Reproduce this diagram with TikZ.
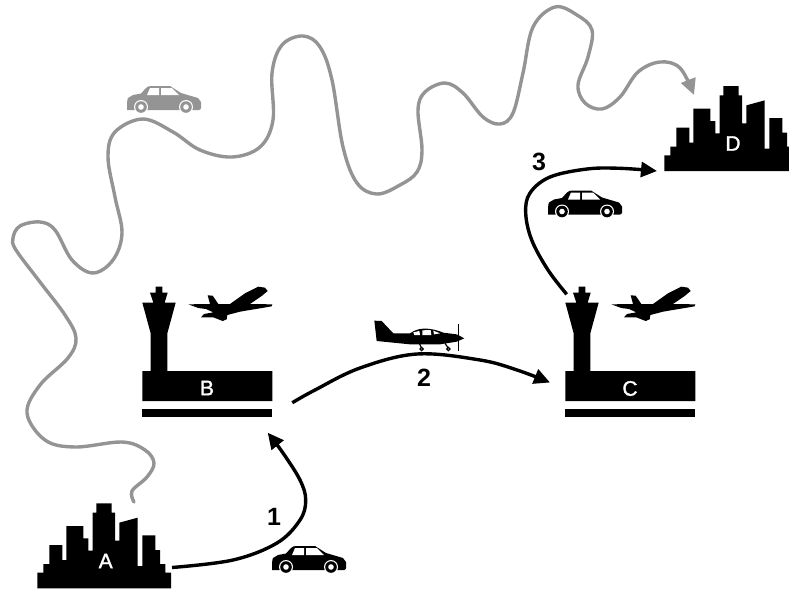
\documentclass[tikz,border=0pt]{standalone}
\usepackage{fontspec}
\setmainfont{Liberation Sans}
\newfontfamily\iconfont[FakeBold=1.5]{Liberation Sans}
\usetikzlibrary{arrows.meta}
\definecolor{routegray}{HTML}{949494}
\tikzset{
  zoomed/.style={x=0.33333pt,y=-0.33333pt},
  icontext/.style={text=white,font=\iconfont\fontsize{21}{21}\selectfont,inner sep=0pt},
  steplabel/.style={font=\fontsize{25}{25}\selectfont\bfseries,inner sep=0pt},
  blackroute/.style={line width=3.4pt,black,-{Triangle[length=16pt,width=15pt]}},
  grayroute/.style={line width=3.4pt,routegray,-{Triangle[length=16pt,width=15pt]}},
  pics/city/.style={code={
    \fill[black,zoomed] (52,355)--(52,308)--(70,308)--(70,282)--(88,282)--(88,225)--(127,225)--(127,270)--(139,270)--(139,168)--(190,168)--(190,205)--(205,205)--(205,242)--(218,242)--(218,128)--(229,128)--(229,100)--(275,100)--(275,128)--(285,128)--(285,212)--(298,212)--(298,158)--(353,143)--(353,288)--(367,288)--(367,196)--(406,196)--(406,240)--(420,240)--(420,282)--(436,282)--(436,308)--(453,308)--(453,355)--cycle;
  }},
  pics/airport/.style={code={
    \begin{scope}[zoomed]
    \fill[black] (77,20)--(97,20)--(97,38)--(113,38)--(104,68)--(137,68)--(112,160)--(112,273)--(427,273)--(427,363)--(37,363)--(37,273)--(62,273)--(62,160)--(37,68)--(70,68)--(60,38)--(77,38)--cycle;
    \fill[black] (37,387) rectangle (427,412);
    \fill[black] (175,73)--(240,72)--(233,46)--(248,47)--(265,72)--(300,72)--(345,40)--(385,20)--(405,23)--(413,33)--(395,48)--(360,72)--(427,73)--(425,79)--(330,95)--(292,105)--(290,118)--(278,123)--(250,112)--(213,112)--(222,102)--(250,97)--(228,87)--(205,84)--cycle;
    \end{scope}
  }},
  pics/car/.style={code={
    \fill[#1] (0,24) .. controls (0,18) and (0,14) .. (1,12) -- (6,9) -- (14,7.5) -- (19,2) .. controls (21,0.5) and (22,0) .. (24,0) -- (43,0) -- (54,7) -- (71,12) -- (74,16) -- (74,22) .. controls (74,23) and (73,24) .. (72,24) -- cycle;
    \fill[white] (20,9)--(23,2)--(32,2)--(32,9)--cycle (34,2)--(45,2)--(52,9)--(34,9)--cycle;
    \foreach \wx in {14,59}{
      \fill[white] (\wx,21) circle[radius=7];
      \fill[#1] (\wx,21) circle[radius=5.8];
      \fill[white] (\wx,21) circle[radius=2.8];
    }
  }},
  pics/smallplane/.style={code={
    \begin{scope}[zoomed]
    \fill[black] (43,32)--(65,33)--(100,70)--(150,70) .. controls (165,60) and (175,57) .. (190,56) .. controls (215,55) and (235,62) .. (250,68)--(290,73)--(313,85)--(290,95)--(240,103)--(150,103)--(50,93)--cycle;
    \fill[white] (160,67)--(178,63)--(180,75)--(163,75)--cycle (187,61)--(212,60)--(214,75)--(187,75)--cycle (220,62)--(240,70)--(222,73)--cycle;
    \draw[black,line width=1.2pt] (295,43)--(295,123);
    \draw[black,line width=1.2pt] (178,100)--(184,113) (255,100)--(264,113);
    \draw[black,line width=1.2pt] (185,117) circle[radius=5] (265,117) circle[radius=5];
    \end{scope}
  }},
}
\begin{document}
\begin{tikzpicture}[x=1pt,y=-1pt]
\useasboundingbox (0,0) rectangle (789,592);
\clip (0,0) rectangle (789,592);

% icons
\pic (cityA) at (20,470) {city};
\pic (cityD) at (647,52.7) {city};
\pic (airportB) at (130,280) {airport};
\pic (airportC) at (553,280) {airport};
\pic (carGray) at (127,86) {car=routegray};
\pic (carOne) at (272,546) {car=black};
\pic (carThree) at (548,190.5) {car=black};
\pic (cessna) at (360,310) {smallplane};

% labels
\node[icontext] (labelA) at (105.7,561) {A};
\node[icontext] (labelB) at (207,388) {B};
\node[icontext] (labelC) at (630,388.5) {C};
\node[icontext] (labelD) at (733,143.5) {D};
\node[steplabel] (stepOne) at (274,517) {1};
\node[steplabel] (stepTwo) at (424,378) {2};
\node[steplabel] (stepThree) at (539,162) {3};

% connector ends
\coordinate (A-road) at (134,502);
\coordinate (D-road) at (694,95);
\coordinate (A-out) at (172,567.5);
\coordinate (B-in) at (267.7,432.7);
\coordinate (B-out) at (292.3,402.7);
\coordinate (C-in) at (550,382.5);
\coordinate (C-out) at (566.7,294.3);
\coordinate (D-in) at (657,171);

% long road
\draw[grayroute,line cap=round] plot[smooth,tension=0.6] coordinates {
 (A-road) (132,491) (147,477) (154,463) (145,450) (122,442) (75,447) (45,440) (27,413) (40,385) (68,358) (76,338) (65,315) (40,282) (16,250) (13,238) (20,226) (40,222) (55,230) (72,260) (93,273) (113,260) (122,233) (115,197) (108,157) (115,132) (143,119) (173,132) (200,150) (232,157) (260,147) (273,120) (272,73) (282,45) (303,36) (320,47) (332,80) (343,147) (357,183) (377,194) (400,185) (417,172) (422,150) (418,110) (425,92) (445,83) (463,93) (483,117) (500,124) (513,113) (523,73) (533,27) (555,7) (577,15) (592,30) (588,57) (578,85) (585,103) (602,109) (620,97) (638,72) (660,62) (680,68) (D-road)};

% numbered legs
\draw[blackroute] plot[smooth,tension=0.6] coordinates {(A-out) (233,560) (277,543) (300,520) (305.7,500) (300,480) (283,453) (B-in)};
\draw[blackroute] plot[smooth,tension=0.6] coordinates {(B-out) (315,390) (360,368) (417,354) (480,360) (517,370) (C-in)};
\draw[blackroute] plot[smooth,tension=0.6] coordinates {(C-out) (548,270) (531.7,240) (525.7,213) (530,193) (550,177) (587,169) (620,168.3) (D-in)};
\end{tikzpicture}
\end{document}
